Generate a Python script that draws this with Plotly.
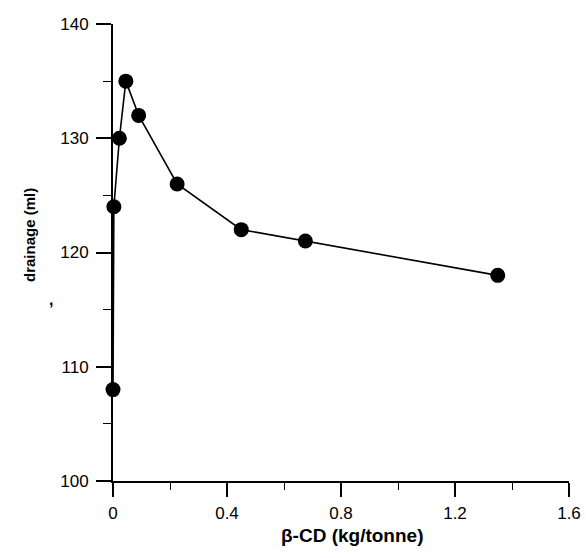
import plotly.graph_objects as go

# data
cd_dose = [0, 0.003, 0.0225, 0.045, 0.09, 0.225, 0.45, 0.675, 1.35]
drainage = [108, 124, 130, 135, 132, 126, 122, 121, 118]
x_ticks = [0, 0.4, 0.8, 1.2, 1.6]
x_labels = ["0", "0.4", "0.8", "1.2", "1.6"]
y_ticks = [100, 110, 120, 130, 140]

FONT = "Liberation Sans, Arial, sans-serif"

fig = go.Figure()
fig.add_trace(go.Scatter(
    x=cd_dose, y=drainage, mode="lines+markers",
    line=dict(color="black", width=1.6),
    marker=dict(color="black", size=15),
    cliponaxis=False, showlegend=False,
))

axis_common = dict(
    showgrid=False, zeroline=False, showline=True, linecolor="black", linewidth=2,
    ticks="outside", tickcolor="black", tickwidth=1.6, automargin=False,
    tickfont=dict(family=FONT, size=17, color="black"),
)

fig.update_xaxes(
    range=[0, 1.6], tickvals=x_ticks, ticktext=x_labels, ticklen=14,
    ticklabelstandoff=2,
    minor=dict(dtick=0.2, ticklen=7, tickcolor="black", tickwidth=1.4, ticks="outside"),
    **axis_common,
)
fig.update_yaxes(
    range=[100, 140], tickvals=y_ticks, ticklen=15, ticklabelstandoff=4,
    minor=dict(dtick=5, ticklen=8, tickcolor="black", tickwidth=1.4, ticks="outside"),
    **axis_common,
)

fig.add_annotation(text="<b>β-CD (kg/tonne)</b>", xref="paper", yref="paper",
                   x=0.5244, y=-0.12, xanchor="center", yanchor="middle",
                   showarrow=False, font=dict(family=FONT, size=19, color="black"))
fig.add_annotation(text="<b>drainage (ml)</b>", xref="paper", yref="paper",
                   x=-0.1845, y=0.538, xanchor="center", yanchor="middle", textangle=-90,
                   showarrow=False, font=dict(family=FONT, size=15, color="black"))
fig.add_annotation(text="<b>,</b>", xref="paper", yref="paper",
                   x=-0.137, y=0.397, xanchor="center", yanchor="middle",
                   showarrow=False, font=dict(family=FONT, size=16, color="black"))

fig.update_layout(
    width=586, height=558, autosize=False,
    margin=dict(l=113, r=17, t=24, b=77, autoexpand=False),
    plot_bgcolor="white", paper_bgcolor="white",
)

# remove the page's default 8px body margin so the figure sits at the window origin
fig.write_html(
    "out.html",
    config={"displayModeBar": False},
    post_script="document.body.style.margin='0';document.documentElement.style.overflow='hidden';",
)
